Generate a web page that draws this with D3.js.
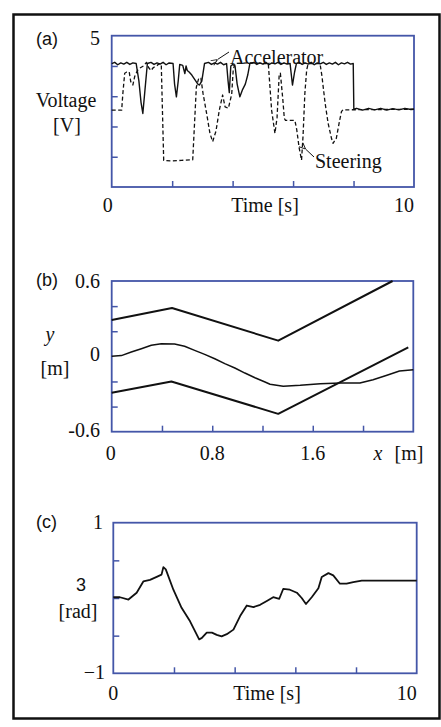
<!DOCTYPE html>
<html>
<head>
<meta charset="utf-8">
<script src="https://cdn.jsdelivr.net/npm/d3@7"></script>
<style>
  body { margin: 0; background: #fff; }
  svg { display: block; }
  text { font-family: "Liberation Serif", "Times New Roman", serif; font-size: 20px; fill: #111; }
  .tag { font-family: "Liberation Sans", Arial, sans-serif; font-size: 18px; }
</style>
</head>
<body>
<div id="chart"></div>
<script>
// ---- data ----
// (a) accelerator / steering voltage vs time
const accelerator = [
  [0, 4.08], [0.1, 4.12], [0.2, 4.04], [0.3, 4.1], [0.4, 4.06], [0.5, 4.12], [0.6, 4.05], [0.7, 4.1],
  [0.81, 4.08], [0.9, 3.5], [0.97, 2.8], [1.03, 2.43], [1.1, 3.2], [1.18, 4.08], [1.3, 4.12], [1.4, 4.05],
  [1.5, 4.1], [1.6, 4.06], [1.7, 4.12], [1.8, 4.04], [1.9, 4.1], [2.03, 4.08], [2.08, 3.4], [2.14, 2.98],
  [2.2, 3.5], [2.25, 4.05], [2.35, 4.02], [2.42, 3.75], [2.46, 4.0], [2.5, 3.85], [2.56, 3.8], [2.65, 3.7],
  [2.75, 3.55], [2.85, 3.4], [2.9, 3.37], [2.98, 3.5], [3.07, 4.08], [3.2, 4.12], [3.3, 4.05], [3.4, 4.1],
  [3.5, 4.06], [3.6, 4.12], [3.7, 4.04], [3.8, 4.08], [3.85, 3.5], [3.89, 3.12], [3.94, 4.0], [4.0, 4.05],
  [4.08, 4.0], [4.15, 3.4], [4.24, 2.98], [4.32, 3.2], [4.42, 3.4], [4.5, 3.7], [4.57, 4.08], [4.7, 4.12],
  [4.8, 4.05], [4.9, 4.1], [5.0, 4.06], [5.1, 4.12], [5.2, 4.04], [5.3, 4.1], [5.4, 4.07], [5.5, 4.12],
  [5.6, 4.05], [5.7, 4.1], [5.8, 4.06], [5.9, 4.08], [5.98, 3.37], [6.05, 3.8], [6.11, 4.08], [6.2, 4.12],
  [6.3, 4.05], [6.4, 4.1], [6.5, 4.06], [6.6, 4.12], [6.7, 4.04], [6.8, 4.1], [6.9, 4.07], [7.0, 4.12],
  [7.1, 4.05], [7.2, 4.1], [7.3, 4.06], [7.4, 4.12], [7.5, 4.04], [7.6, 4.1], [7.7, 4.07], [7.8, 4.12],
  [7.9, 4.06], [7.99, 4.08], [8.01, 2.57], [8.1, 2.6], [8.3, 2.54], [8.5, 2.6], [8.7, 2.55], [8.9, 2.6],
  [9.1, 2.54], [9.3, 2.59], [9.5, 2.55], [9.7, 2.6], [9.9, 2.56], [10, 2.57]
];
const steering = [
  [0, 2.54], [0.33, 2.54], [0.37, 3.1], [0.43, 3.76], [0.5, 3.8], [0.58, 3.8], [0.63, 3.48], [0.7, 3.37],
  [0.76, 3.65], [0.85, 3.85], [0.93, 3.93], [1.05, 4.0], [1.15, 4.12], [1.22, 3.95], [1.3, 3.85],
  [1.38, 3.95], [1.48, 4.0], [1.58, 4.08], [1.64, 4.05], [1.72, 0.88], [2.0, 0.86], [2.3, 0.88],
  [2.68, 0.9], [2.8, 3.3], [2.88, 3.6], [2.95, 3.6], [3.02, 3.1], [3.14, 2.43], [3.25, 1.77], [3.34, 1.5],
  [3.45, 1.85], [3.56, 2.54], [3.67, 3.04], [3.75, 2.65], [3.86, 2.6], [3.97, 3.07], [4.02, 3.87],
  [4.08, 4.08], [4.5, 4.1], [5.0, 4.08], [5.18, 4.08], [5.29, 2.54], [5.4, 1.77], [5.47, 2.3], [5.54, 3.7],
  [5.58, 3.76], [5.66, 2.9], [5.71, 2.27], [5.75, 2.2], [6.06, 2.2], [6.12, 1.9], [6.2, 1.3], [6.28, 0.89],
  [6.33, 1.7], [6.39, 3.1], [6.45, 3.87], [6.5, 4.08], [6.89, 4.08], [6.95, 3.7], [7.06, 2.77],
  [7.16, 2.1], [7.27, 1.61], [7.32, 1.44], [7.43, 1.61], [7.54, 2.2], [7.6, 2.49], [7.65, 2.55], [10, 2.57]
];
const voltTicks = [1, 2, 3, 4];
const timeTicks = [2, 4, 6, 8];

// (b) road boundaries and driven path, y vs x
const upperEdge = [[0, 0.29], [0.48, 0.385], [1.325, 0.125], [2.235, 0.6]];
const lowerEdge = [[0, -0.29], [0.475, -0.2], [1.325, -0.458], [2.36, 0.072]];
const pathXY = [
  [0, 0], [0.077, 0.006], [0.156, 0.034], [0.236, 0.061], [0.315, 0.088], [0.395, 0.1], [0.5, 0.098],
  [0.58, 0.08], [0.66, 0.048], [0.74, 0.016], [0.82, -0.019], [0.9, -0.058], [0.98, -0.093],
  [1.06, -0.133], [1.14, -0.17], [1.22, -0.204], [1.26, -0.222], [1.365, -0.238], [1.5, -0.231],
  [1.66, -0.218], [1.82, -0.212], [1.975, -0.212], [2.08, -0.186], [2.19, -0.151], [2.29, -0.117], [2.4, -0.106]
];
const yTicksB = [-0.4, -0.2, 0.2, 0.4];
const xTicksB = [0.4, 0.8, 1.2, 1.6, 2.0];

// (c) heading angle vs time
const theta = [
  [0, 0.01], [0.22, 0.01], [0.5, -0.02], [0.77, 0.07], [0.99, 0.22], [1.21, 0.24], [1.43, 0.28],
  [1.59, 0.31], [1.65, 0.41], [1.73, 0.38], [1.98, 0.11], [2.25, -0.13], [2.53, -0.31], [2.83, -0.55],
  [2.92, -0.53], [3.08, -0.46], [3.25, -0.46], [3.41, -0.49], [3.57, -0.51], [3.74, -0.48], [3.96, -0.42],
  [4.18, -0.24], [4.4, -0.1], [4.62, -0.12], [4.84, -0.09], [5.06, -0.04], [5.27, 0.01], [5.47, -0.01],
  [5.6, 0.12], [5.82, 0.11], [6.05, 0.07], [6.21, 0.0], [6.35, -0.08], [6.54, 0.01], [6.76, 0.13],
  [6.87, 0.28], [7.09, 0.33], [7.25, 0.3], [7.47, 0.19], [7.69, 0.19], [7.91, 0.21], [8.19, 0.23], [10, 0.23]
];
const thetaTicks = [-0.5, 0, 0.5];

// ---- drawing ----
const W = 441;
const H = 727;
const AXIS_COLOR = "#4456a8";

const svg = d3.select("#chart").append("svg").attr("width", W).attr("height", H);

// outer frame
svg.append("rect")
  .attr("x", 13.5).attr("y", 14.5).attr("width", 426).attr("height", 704)
  .attr("fill", "none").attr("stroke", "#111").attr("stroke-width", 2.5);

svg.append("defs").append("marker")
  .attr("id", "arrow").attr("viewBox", "0 0 10 10")
  .attr("refX", 0).attr("refY", 5)
  .attr("markerWidth", 7).attr("markerHeight", 7)
  .attr("orient", "auto-start-reverse")
  .append("path").attr("d", "M9,1 L0,5 L9,9")
  .attr("fill", "none").attr("stroke", "#111").attr("stroke-width", 1.3);

function panel(box, xDomain, yDomain, xTicks, yTicks) {
  const x = d3.scaleLinear().domain(xDomain).range([box.left, box.right]);
  const y = d3.scaleLinear().domain(yDomain).range([box.bottom, box.top]);
  const g = svg.append("g");

  g.append("g")
    .attr("transform", "translate(0," + box.bottom + ")")
    .call(d3.axisBottom(x).tickValues(xTicks).tickSize(-6).tickFormat(""))
    .call((a) => a.select(".domain").remove())
    .selectAll("line").attr("stroke", AXIS_COLOR).attr("stroke-width", 1.5);

  g.append("g")
    .attr("transform", "translate(" + box.left + ",0)")
    .call(d3.axisLeft(y).tickValues(yTicks).tickSize(-6).tickFormat(""))
    .call((a) => a.select(".domain").remove())
    .selectAll("line").attr("stroke", AXIS_COLOR).attr("stroke-width", 1.5);

  g.append("rect")
    .attr("x", box.left).attr("y", box.top)
    .attr("width", box.right - box.left).attr("height", box.bottom - box.top)
    .attr("fill", "none").attr("stroke", AXIS_COLOR).attr("stroke-width", 1.8);

  return { x, y, g };
}

function plotLine(p, data, width, dash) {
  const line = d3.line().x((d) => p.x(d[0])).y((d) => p.y(d[1]));
  p.g.append("path")
    .datum(data)
    .attr("d", line)
    .attr("fill", "none")
    .attr("stroke", "#111")
    .attr("stroke-width", width)
    .attr("stroke-linejoin", "round")
    .attr("stroke-dasharray", dash || null);
}

function label(txt, x, y, anchor, cls, italic) {
  svg.append("text")
    .attr("x", x).attr("y", y)
    .attr("text-anchor", anchor || "start")
    .attr("class", cls || null)
    .style("font-style", italic ? "italic" : null)
    .text(txt);
}

// (a)
const pa = panel({ left: 111.7, right: 414, top: 35.7, bottom: 187 }, [0, 10], [0, 5], timeTicks, voltTicks);
plotLine(pa, steering, 1.3, "4,2.5");
plotLine(pa, accelerator, 1.4);
label("(a)", 36, 45, "start", "tag");
label("5", 100, 45, "end");
label("Voltage", 66, 107, "middle");
label("[V]", 67, 132, "middle");
label("0", pa.x(0) - 4, 212, "middle");
label("Time [s]", 265, 212, "middle");
label("10", pa.x(10), 212, "end");
label("Accelerator", 230, 64);
label("Steering", 315, 168);
svg.append("line").attr("x1", 229).attr("y1", 52).attr("x2", 217.5).attr("y2", 59.5)
  .attr("stroke", "#111").attr("stroke-width", 1).attr("marker-end", "url(#arrow)");
svg.append("line").attr("x1", 314).attr("y1", 157).attr("x2", 305.5).attr("y2", 149)
  .attr("stroke", "#111").attr("stroke-width", 1).attr("marker-end", "url(#arrow)");

// (b)
const pb = panel({ left: 111.7, right: 413.3, top: 281, bottom: 431.7 }, [0, 2.4], [-0.6, 0.6], xTicksB, yTicksB);
plotLine(pb, upperEdge, 2);
plotLine(pb, lowerEdge, 2);
plotLine(pb, pathXY, 1.5);
label("(b)", 36, 286, "start", "tag");
label("0.6", 100, 288, "end");
label("y", 50, 341, "middle", null, true);
label("0", 100, 361, "end");
label("[m]", 55, 375, "middle");
label("-0.6", 100, 437, "end");
label("0", pb.x(0) - 1, 460, "middle");
label("0.8", pb.x(0.8), 460, "middle");
label("1.6", pb.x(1.6), 460, "middle");
label("x", 378, 460, "middle", null, true);
label("[m]", 409, 460, "middle");

// (c)
const pc = panel({ left: 113.3, right: 416.7, top: 522.7, bottom: 673.3 }, [0, 10], [-1, 1], timeTicks, thetaTicks);
plotLine(pc, theta, 1.8);
label("(c)", 36, 528, "start", "tag");
label("1", 103, 529, "end");
label("3", 81, 591, "middle", "tag");
label("[rad]", 78, 618, "middle");
label("\u22121", 105, 679, "end");
label("0", pc.x(0), 700, "middle");
label("Time [s]", 267, 700, "middle");
label("10", pc.x(10), 700, "end");
</script>
</body>
</html>
